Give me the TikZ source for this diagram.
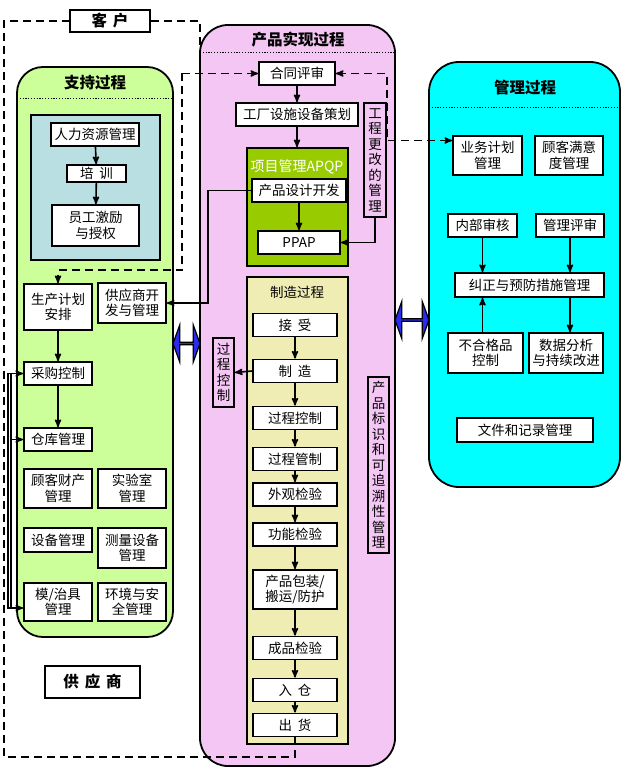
\documentclass[tikz,border=0pt]{standalone}
\usepackage{fontspec}
\setmainfont{Noto Sans CJK SC}
\usepackage{xcolor}
\usepackage{tikz}
\usetikzlibrary{arrows,shapes.arrows}

\definecolor{supgreen}{HTML}{CCFF99}
\definecolor{hrblue}{HTML}{B9DFE2}
\definecolor{prodpink}{HTML}{F3C6F3}
\definecolor{apqpgreen}{HTML}{99CC00}
\definecolor{mfgyellow}{HTML}{EFEDB4}
\definecolor{mgtcyan}{HTML}{00FFFF}
\definecolor{linkblue}{HTML}{2B2BF0}

\begin{document}
\begin{tikzpicture}[x=1pt,y=-1pt,
  font=\fontsize{13.5pt}{15.5pt}\selectfont,
  box/.style={draw,fill=white,line width=1.8pt,inner sep=1pt,align=center,minimum width=68pt,minimum height=23pt},
  vbox/.style={draw,line width=1.8pt,inner sep=1pt,align=center,minimum width=21pt},
  panel/.style={draw,line width=1.8pt},
  title/.style={font=\fontsize{15.5pt}{17pt}\selectfont\bfseries},
  sepline/.style={line width=0.9pt,dash pattern=on 1.2pt off 1.6pt},
  link/.style={->,>=stealth',line width=1.6pt},
  flow/.style={->,>=stealth',line width=1.6pt,dash pattern=on 8pt off 5pt},
  party/.style={draw,fill=white,line width=1.8pt,font=\fontsize{15.5pt}{17pt}\selectfont\bfseries,inner sep=1pt},
  blueway/.style={double arrow,draw,fill=linkblue,line width=1.2pt,minimum height=27pt,minimum width=37pt,
    double arrow head extend=8pt,double arrow tip angle=140,inner sep=0pt}
]
\useasboundingbox (0,0) rectangle (624,770);

% customer
\node[party,minimum width=80pt,minimum height=22pt] (cust) at (110,21) {客\hspace{6pt}户};
\draw[flow,-] (cust.east) -- (200,21) -- (200,75);

% support process
\draw[panel,rounded corners=26pt,fill=supgreen] (17,67) rectangle (173,637);
\node[title] (suptitle) at (95,83) {支持过程};
\draw[sepline] (17,98) -- (173,98);
\draw[line width=1.8pt,fill=hrblue] (31,115) rectangle (160,260);
\node[box,minimum width=88pt] (hr) at (95,134.5) {人力资源管理};
\node[box,minimum width=59pt,minimum height=17pt] (train) at (96.5,173.5) {培\hspace{6pt}训};
\node[box,minimum width=87pt,minimum height=41pt] (motiv) at (95.5,225.5) {员工激励\\与授权};
\node[box,minimum height=46pt] (plan) at (58,307) {生产计划\\安排};
\node[box,minimum height=40pt] (supdev) at (132,303) {供应商开\\发与管理};
\node[box] (purch) at (58,373.5) {采购控制};
\node[box] (store) at (58,439.5) {仓库管理};
\node[box,minimum height=39pt] (custprop) at (58,488.5) {顾客财产\\管理};
\node[box,minimum height=39pt] (lab) at (132,488.5) {实验室\\管理};
\node[box,minimum height=24pt] (equip) at (58,540) {设备管理};
\node[box,minimum height=40pt] (measure) at (132,548) {测量设备\\管理};
\node[box,minimum height=38pt] (mold) at (58,602) {模/治具\\管理};
\node[box,minimum height=38pt] (env) at (132,602) {环境与安\\全管理};

\node[party,minimum width=95pt,minimum height=32pt] (supp) at (92.5,682) {供\hspace{6pt}应\hspace{6pt}商};

% product realization
\draw[panel,rounded corners=28pt,fill=prodpink] (200,25) rectangle (395,766);
\node[title] (prodtitle) at (298,40) {产品实现过程};
\draw[sepline] (200,52) -- (395,52);
\node[box,minimum width=76pt] (contract) at (297,73.5) {合同评审};
\node[box,minimum width=122pt] (facility) at (297,114.5) {工厂设施设备策划};
\node[draw,line width=1.8pt,fill=apqpgreen,minimum width=101pt,minimum height=118pt] (apqp) at (297.5,207) {};
\node[font=\fontsize{14pt}{16pt}\selectfont,text=white] (apqptitle) at (297,167) {项目管理APQP};
\node[box,minimum width=94pt] (design) at (299,190.5) {产品设计开发};
\node[box,minimum width=82pt] (ppap) at (299,242.5) {PPAP};
\node[vbox,minimum height=114pt,minimum width=22pt] (ecm) at (375,160) {工\\程\\更\\改\\的\\管\\理};

\draw[line width=1.8pt,fill=mfgyellow] (247,277) rectangle (348,744);
\node (mfgtitle) at (297,292) {制造过程};
\node[box,minimum width=84pt] (recv) at (295,325) {接\hspace{6pt}受};
\node[box,minimum width=84pt] (make) at (295,371) {制\hspace{6pt}造};
\node[box,minimum width=84pt] (pctl) at (295,418) {过程控制};
\node[box,minimum width=84pt] (pmon) at (295,459) {过程管制};
\node[box,minimum width=84pt] (vis) at (295,494.5) {外观检验};
\node[box,minimum width=84pt] (func) at (295,534.5) {功能检验};
\node[box,minimum width=84pt,minimum height=39pt] (pack) at (295,589.5) {产品包装/\\搬运/防护};
\node[box,minimum width=84pt] (final) at (295,648) {成品检验};
\node[box,minimum width=84pt] (inst) at (295,690) {入\hspace{6pt}仓};
\node[box,minimum width=84pt] (ship) at (295,725) {出\hspace{6pt}货};
\node[vbox,minimum height=69pt] (pctrlv) at (223.5,372.5) {过\\程\\控\\制};
\node[vbox,minimum height=176pt] (trace) at (378.5,465) {产\\品\\标\\识\\和\\可\\追\\溯\\性\\管\\理};

% management process
\draw[panel,rounded corners=30pt,fill=mgtcyan] (429,62) rectangle (620,487);
\node[title] (mgttitle) at (525,88) {管理过程};
\draw[sepline] (429,107) -- (620,107);
\node[box,minimum width=69pt,minimum height=39pt] (bizplan) at (487.5,155.5) {业务计划\\管理};
\node[box,minimum width=68pt,minimum height=39pt] (satisf) at (569,155.5) {顾客满意\\度管理};
\node[box,minimum width=69pt] (audit) at (482.5,225.5) {内部审核};
\node[box,minimum width=68pt] (review) at (570,225.5) {管理评审};
\node[box,minimum width=149pt,minimum height=24pt] (cpa) at (529.5,285) {纠正与预防措施管理};
\node[box,minimum width=75pt,minimum height=40pt] (ncm) at (485.5,353) {不合格品\\控制};
\node[box,minimum width=74pt,minimum height=40pt] (data) at (566,353) {数据分析\\与持续改进};
\node[box,minimum width=136pt,minimum height=24pt] (docs) at (525,430) {文件和记录管理};

% interfaces
\node[blueway] (lnkL) at (186.5,343.5) {};
\node[blueway,minimum height=34pt] (lnkR) at (412,320) {};

% connectors
\draw[link] (hr) -- (train);
\draw[link] (train) -- (motiv);
\draw[link] (plan) -- (purch);
\draw[link] (purch) -- (store);
\draw[link,<->] (purch.west) -- (8,373.5) -- (8,608) -- ([yshift=-6pt]mold.west);
\draw[line width=1.6pt] (11,373.5) -- (11,608);
\draw[link] (11,439.5) -- (store.west);

\draw[link] (contract) -- (facility);
\draw[link] (facility) -- (apqp.north -| facility);
\draw[link] (design) -- (ppap);
\draw[link] (ecm.south) |- (ppap.east);
\draw[link] (design.west) -- (208,190.5) |- (supdev.east);
\draw[link] (make.west) -- (pctrlv.east);
\foreach \a/\b in {recv/make,make/pctl,pctl/pmon,pmon/vis,vis/func,func/pack,pack/final,final/inst,inst/ship}
  \draw[link] (\a) -- (\b);

\draw[link] (audit.south) -- (audit.south |- cpa.north);
\draw[link] (review.south) -- (review.south |- cpa.north);
\draw[link] (ncm.north -| audit.south) -- (audit.south |- cpa.south);
\draw[link] (review.south |- cpa.south) -- (review.south |- data.north);

% customer flows
\draw[flow] (182,73.5) -- (contract.west);
\draw[flow] (182,73.5) -- (182,270) -| (plan.north);
\draw[flow,<->] (contract.east) -- (387,73.5) |- ([yshift=15pt]bizplan.west);
\draw[flow,-] (ship.south) -- (295,757) -- (4,757) -- (4,21) -- (cust.west);
\end{tikzpicture}
\end{document}
